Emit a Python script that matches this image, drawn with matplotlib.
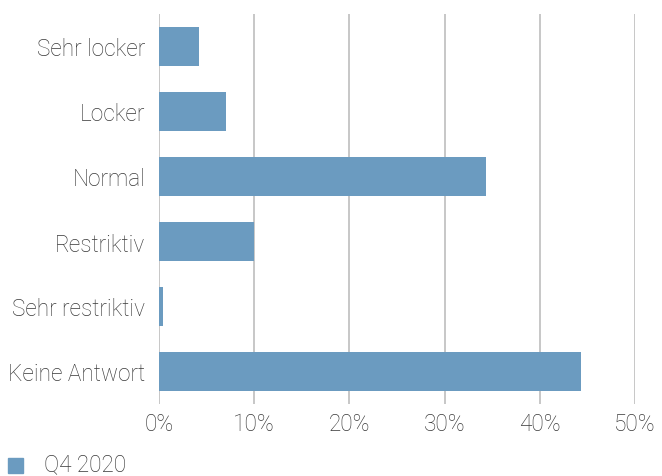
import matplotlib
matplotlib.use("Agg")
import matplotlib.pyplot as plt
from matplotlib.patches import Rectangle

categories = ["Sehr locker", "Locker", "Normal", "Restriktiv", "Sehr restriktiv", "Keine Antwort"]
values = [4.2, 7.0, 34.3, 10.0, 0.4, 44.3]
xticks = [0, 10, 20, 30, 40, 50]
xticklabels = ["0%", "10%", "20%", "30%", "40%", "50%"]
series_name = "Q4 2020"

plt.rcParams['font.family'] = ['Roboto', 'DejaVu Sans']
plt.rcParams['font.weight'] = 'light'
color = "#6b9bc0"
textc = "#383838"
fs = 16.3

fig = plt.figure(figsize=(6.62, 4.77), dpi=100)
ax = fig.add_axes([159/662, 1-405/477, (635-159)/662, (405-15)/477])
y = list(range(len(categories)))
ax.barh(y, values, height=0.6, color=color, zorder=3)
ax.set_ylim(len(categories)-0.5, -0.5)
ax.set_xlim(0, 50)
ax.set_yticks(y)
ax.set_yticklabels(categories, fontsize=fs, color=textc, fontweight='light')
ax.set_xticks(xticks)
ax.set_xticklabels(xticklabels, fontsize=fs, color=textc, fontweight='light')
ax.tick_params(length=0)
ax.tick_params(axis='x', pad=6)
ax.tick_params(axis='y', pad=10)
for s in ax.spines.values():
    s.set_visible(False)
ax.grid(axis='x', color="#bdbdbd", linewidth=1.2, zorder=0)

fig.patches.append(Rectangle((8/662, 1-474/477), 15/662, 15/477, transform=fig.transFigure, color=color))
fig.text(44/662, 1-465/477, series_name, fontsize=fs, color=textc, va='center', ha='left', fontweight='light')

fig.savefig("out.png", dpi=100)
